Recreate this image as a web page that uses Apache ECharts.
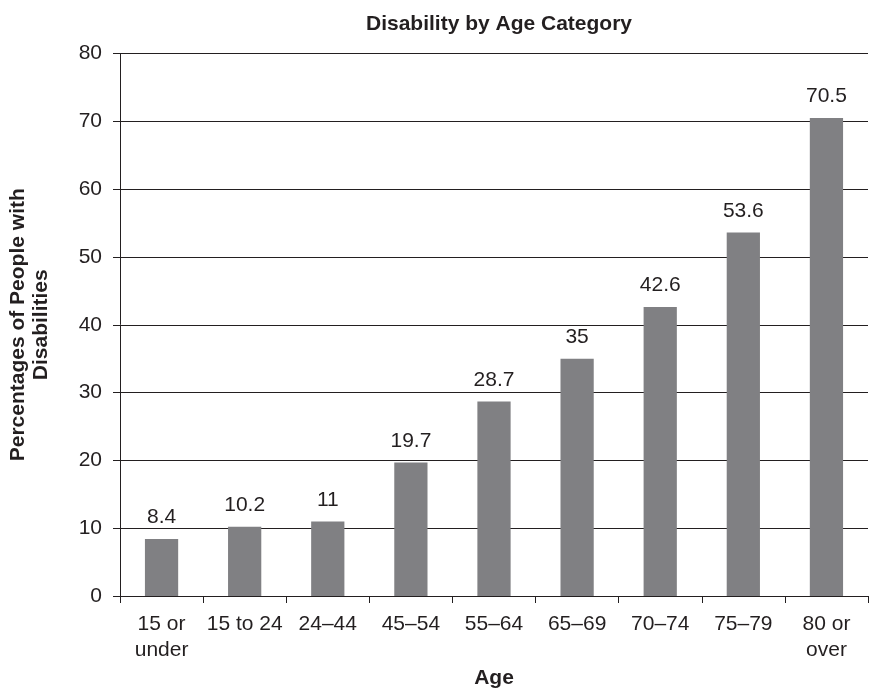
<!DOCTYPE html>
<html>
<head>
<meta charset="utf-8">
<script src="https://cdn.jsdelivr.net/npm/echarts@6/dist/echarts.min.js"></script>
<style>
  html, body { margin: 0; padding: 0; background: #fff; }
  #chart { width: 869px; height: 689px; }
</style>
</head>
<body>
<div id="chart"></div>
<script>
// Age groups along the horizontal axis
const categories = ['15 or\nunder', '15 to 24', '24\u201344', '45\u201354', '55\u201364', '65\u201369', '70\u201374', '75\u201379', '80 or\nover'];
// Percentage of people with disabilities in each group
const values = [8.4, 10.2, 11, 19.7, 28.7, 35, 42.6, 53.6, 70.5];
// Vertical axis range
const yMin = 0, yMax = 80, yStep = 10;

const FONT = 'Liberation Sans, Arial, Helvetica, sans-serif';
const INK = '#231f20';

const chart = echarts.init(document.getElementById('chart'), null, { renderer: 'canvas' });
chart.setOption({
  backgroundColor: '#ffffff',
  animation: false,
  title: {
    text: 'Disability by Age Category',
    left: 494, top: 9, textAlign: 'center',
    textStyle: { fontFamily: FONT, fontSize: 21, fontWeight: 'bold', color: INK }
  },
  grid: { left: 120, right: 1, top: 53.5, bottom: 93, containLabel: false, outerBoundsMode: 'none' },
  xAxis: {
    type: 'category',
    data: categories,
    name: 'Age',
    nameLocation: 'middle',
    nameGap: 72,
    nameTextStyle: { fontFamily: FONT, fontSize: 21, fontWeight: 'bold', color: INK },
    axisLine: { lineStyle: { color: INK, width: 1 } },
    axisTick: { show: true, alignWithLabel: false, length: 7, lineStyle: { color: INK } },
    axisLabel: { fontFamily: FONT, fontSize: 21, color: INK, margin: 15, lineHeight: 26, interval: 0 }
  },
  yAxis: {
    type: 'value',
    min: yMin, max: yMax, interval: yStep,
    name: 'Percentages of People with\nDisabilities',
    nameLocation: 'middle',
    nameGap: 67,
    nameTextStyle: { fontFamily: FONT, fontSize: 21, fontWeight: 'bold', color: INK, lineHeight: 23 },
    axisLine: { show: true, lineStyle: { color: INK, width: 1 } },
    axisTick: { show: true, length: 7, lineStyle: { color: INK } },
    axisLabel: { fontFamily: FONT, fontSize: 21, color: INK, margin: 18 },
    splitLine: { show: true, lineStyle: { color: INK, width: 1 } }
  },
  series: [{
    type: 'bar',
    data: values,
    barWidth: '40%',
    itemStyle: { color: '#808083' },
    label: {
      show: true,
      position: 'top',
      distance: 11,
      fontFamily: FONT, fontSize: 21, color: INK
    }
  }]
});
</script>
</body>
</html>
